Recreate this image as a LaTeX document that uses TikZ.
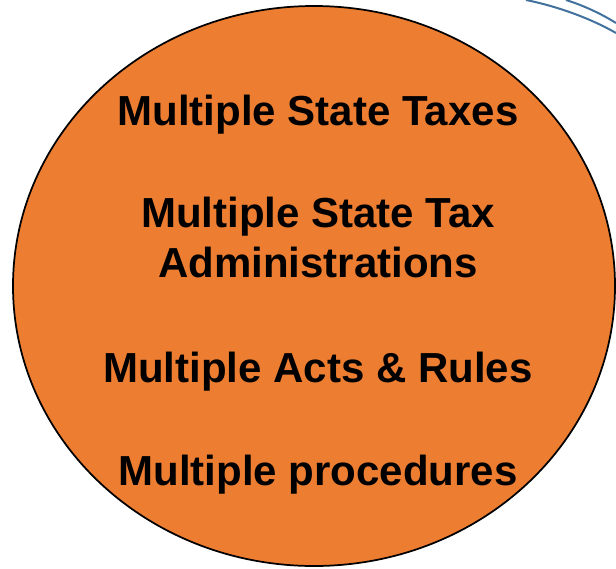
\documentclass[tikz,border=0pt]{standalone}
\usepackage{fontspec}
\setmainfont{Liberation Sans}
\usetikzlibrary{shapes, positioning, calc}

\begin{document}
\begin{tikzpicture}[x=0.75pt,y=0.75pt,yscale=-1,xscale=1]
\tikzset{
  taxtext/.style={anchor=base, inner sep=0.75pt, font=\fontsize{31.5}{37.5}\selectfont\bfseries, align=center},
  bluearc/.style={draw={rgb, 255:red, 65; green, 113; blue, 156 }, line width=1.5pt}
}
\useasboundingbox (0,0) rectangle (616,568);

%Shape: Ellipse [id:taxcircle]
\draw [fill={rgb, 255:red, 237; green, 125; blue, 49 }, fill opacity=1, line width=1.3pt] (314,286) ellipse (301 and 280);

%Shape: Arc [id:arcouter]
\draw [bluearc] (526,0) .. controls (556,6) and (590,18) .. (616,33) ;
%Shape: Arc [id:arcinner]
\draw [bluearc] (566,0) .. controls (582,5) and (600,13) .. (616,23) ;

% Text Node
\node [taxtext] (taxes) at (318,125) {Multiple State Taxes};
% Text Node
\node [taxtext] (admins) at (318,277) {Multiple State Tax\\Administrations};
% Text Node
\node [taxtext] (acts) at (318,382) {Multiple Acts \& Rules};
% Text Node
\node [taxtext] (procs) at (318,485) {Multiple procedures};

\end{tikzpicture}
\end{document}
